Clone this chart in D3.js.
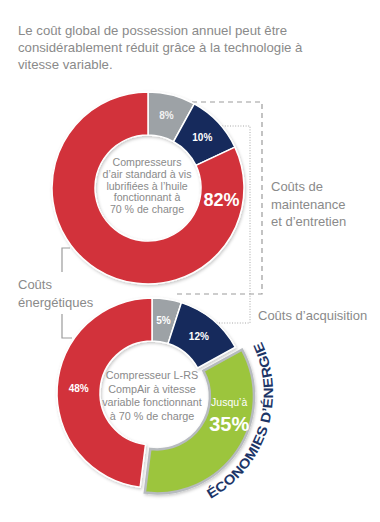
<!DOCTYPE html>
<html>
<head>
<meta charset="utf-8">
<script src="https://cdn.jsdelivr.net/npm/d3@7/dist/d3.min.js"></script>
<style>
  body { margin: 0; background: #fff; }
  svg { display: block; font-family: "Liberation Sans", Arial, sans-serif; }
</style>
</head>
<body>
<div id="chart"></div>
<script>
// Chart data
var titleLines = [
  "Le coût global de possession annuel peut être",
  "considérablement réduit grâce à la technologie à",
  "vitesse variable."
]
var topCategories = ["acquisition", "maintenance", "energie"]
var topValues = [8, 10, 82]
var topCenterText = ["Compresseurs", "d’air standard à vis", "lubrifiées à l’huile", "fonctionnant à", "70 % de charge"]

var bottomCategories = ["acquisition", "maintenance", "economies", "energie"]
var bottomValues = [5, 12, 35, 48]
var bottomCenterText = ["Compresseur L-RS", "CompAir à vitesse", "variable fonctionnant", "à 70 % de charge"]
var caption = "ÉCONOMIES D’ÉNERGIE"

var colors = {
  acquisition: "#9da2a6",
  maintenance: "#132a5b",
  energie: "#d2333b",
  economies: "#9cc53d"
}

var width = 380
var height = 522
var grey = "#8a8a8a"

var svg = d3.select("#chart")
  .append("svg")
  .attr("width", width)
  .attr("height", height)

// soft shadow under the rings
var defs = svg.append("defs")
defs.append("filter")
  .attr("id", "shadow")
  .attr("x", "-20%").attr("y", "-20%").attr("width", "140%").attr("height", "140%")
  .append("feDropShadow")
  .attr("dx", 1).attr("dy", 1.5).attr("stdDeviation", 1.5)
  .attr("flood-color", "#000").attr("flood-opacity", 0.22)

// Title
svg.append("text")
  .attr("x", 18)
  .attr("y", 35)
  .attr("font-size", 13.2)
  .attr("fill", grey)
  .selectAll("tspan")
  .data(titleLines)
  .enter().append("tspan")
  .attr("x", 18)
  .attr("dy", function(d, i) { return i ? 17 : 0 })
  .text(function(d) { return d })

// Bracket boxes (drawn first so the rings sit on top)
var lineCol = "#9b9b9b"
svg.append("path")
  .attr("d", "M183,102H262V294H173")
  .attr("fill", "none").attr("stroke", lineCol)
  .attr("stroke-width", 1.2).attr("stroke-dasharray", "5,4")
svg.append("path")
  .attr("d", "M217,126H250V323H173")
  .attr("fill", "none").attr("stroke", "#a8a8a8")
  .attr("stroke-width", 1).attr("stroke-dasharray", "1,1.6")

// energy cost brackets
svg.append("path")
  .attr("d", "M70,248H62V272")
  .attr("fill", "none").attr("stroke", lineCol).attr("stroke-width", 1.2)
svg.append("path")
  .attr("d", "M62,314V338H72")
  .attr("fill", "none").attr("stroke", lineCol).attr("stroke-width", 1.2)

// Side labels
function multiline(x, y, lines, step, opts) {
  var t = svg.append("text")
    .attr("x", x).attr("y", y)
    .attr("font-size", opts.size || 13)
    .attr("fill", opts.fill || grey)
    .attr("text-anchor", opts.anchor || "start")
  t.selectAll("tspan")
    .data(lines)
    .enter().append("tspan")
    .attr("x", x)
    .attr("dy", function(d, i) { return i ? step : 0 })
    .text(function(d) { return d })
  return t
}

multiline(271, 191, ["Coûts de", "maintenance", "et d’entretien"], 17.5, {})
multiline(258, 320, ["Coûts d’acquisition"], 0, {})
multiline(18, 289, ["Coûts", "énergétiques"], 17.5, {})

var pie = d3.pie().sort(null).value(function(d) { return d.value })

// ---------- Top ring ----------
var topData = topCategories.map(function(c, i) { return { key: c, value: topValues[i] } })
var topR = 96, topr = 53
var arcTop = d3.arc().innerRadius(topr).outerRadius(topR)

var gTop = svg.append("g").attr("transform", "translate(148,188)")
gTop.append("g").attr("filter", "url(#shadow)")
  .selectAll("path")
  .data(pie(topData))
  .enter().append("path")
  .attr("d", arcTop)
  .attr("fill", function(d) { return colors[d.data.key] })
  .attr("stroke", "#fff")
  .attr("stroke-width", 1.5)

gTop.selectAll(".pct")
  .data(pie(topData))
  .enter().append("text")
  .attr("class", "pct")
  .attr("transform", function(d) {
    var c
    if (d.data.key === "energie") {
      // big label sits just past the navy slice
      c = arcTop.centroid({ startAngle: d.startAngle, endAngle: d.startAngle + 1.2 })
    } else {
      c = arcTop.centroid(d)
    }
    return "translate(" + c + ")"
  })
  .attr("text-anchor", "middle")
  .attr("dy", "0.35em")
  .attr("fill", function(d) { return d.data.key === "acquisition" ? "#f2f2f2" : "#fff" })
  .attr("font-weight", "bold")
  .attr("font-size", function(d) { return d.data.key === "energie" ? 18 : 10 })
  .text(function(d) { return d.value + "%" })

gTop.append("text")
  .attr("text-anchor", "middle")
  .attr("font-size", 10.6)
  .attr("fill", grey)
  .selectAll("tspan")
  .data(topCenterText)
  .enter().append("tspan")
  .attr("x", -1)
  .attr("y", function(d, i) { return -22 + i * 11.8 })
  .text(function(d) { return d })

// ---------- Bottom ring ----------
var botData = bottomCategories.map(function(c, i) { return { key: c, value: bottomValues[i] } })
var botR = 95, botr = 52
var arcBot = d3.arc().innerRadius(botr).outerRadius(botR)
var arcSaving = d3.arc().innerRadius(botr + 1).outerRadius(botR + 2)
var explode = 6

var gBot = svg.append("g").attr("transform", "translate(152,393)")
var botArcs = pie(botData)

function offset(d) {
  var a = (d.startAngle + d.endAngle) / 2
  return [Math.sin(a) * explode, -Math.cos(a) * explode]
}

gBot.append("g").attr("filter", "url(#shadow)")
  .selectAll("path")
  .data(botArcs)
  .enter().append("path")
  .attr("transform", function(d) {
    return d.data.key === "economies" ? "translate(" + offset(d) + ")" : null
  })
  .attr("d", function(d) { return d.data.key === "economies" ? arcSaving(d) : arcBot(d) })
  .attr("fill", function(d) { return colors[d.data.key] })
  .attr("stroke", function(d) { return d.data.key === "economies" ? "#b7bbbf" : "#fff" })
  .attr("stroke-width", function(d) { return d.data.key === "economies" ? 2.5 : 1.5 })

gBot.selectAll(".pct")
  .data(botArcs.filter(function(d) { return d.data.key !== "economies" }))
  .enter().append("text")
  .attr("class", "pct")
  .attr("transform", function(d) { return "translate(" + arcBot.centroid(d) + ")" })
  .attr("text-anchor", "middle")
  .attr("dy", "0.35em")
  .attr("fill", "#fff")
  .attr("font-weight", "bold")
  .attr("font-size", 10)
  .text(function(d) { return d.value + "%" })

// savings label, placed in the upper part of the green slice
var saving = botArcs.filter(function(d) { return d.data.key === "economies" })[0]
var sc = arcSaving.centroid({ startAngle: saving.startAngle, endAngle: saving.startAngle + 1.55 })
var so = offset(saving)
var sLabel = gBot.append("g")
  .attr("transform", "translate(" + (sc[0] + so[0]) + "," + (sc[1] + so[1]) + ")")
sLabel.append("text")
  .attr("text-anchor", "middle")
  .attr("y", -11)
  .attr("font-size", 10.5)
  .attr("fill", "#fff")
  .text("Jusqu’à")
sLabel.append("text")
  .attr("text-anchor", "middle")
  .attr("y", 14)
  .attr("font-size", 20)
  .attr("font-weight", "bold")
  .attr("fill", "#fff")
  .text(saving.value + "%")

gBot.append("text")
  .attr("text-anchor", "middle")
  .attr("font-size", 10.8)
  .attr("fill", grey)
  .selectAll("tspan")
  .data(bottomCenterText)
  .enter().append("tspan")
  .attr("x", 0)
  .attr("y", function(d, i) { return -14 + i * 13.5 })
  .text(function(d) { return d })

// curved caption around the savings slice
var toRad = Math.PI / 180
var capR = 121
var capPath = d3.path()
capPath.arc(0, 0, capR, (151 - 90) * toRad, (64 - 90) * toRad, true)
gBot.append("path")
  .attr("id", "capPath")
  .attr("d", capPath.toString())
  .attr("fill", "none")
gBot.append("text")
  .attr("font-size", 13.5)
  .attr("font-weight", "bold")
  .attr("fill", "#1c3567")
  .append("textPath")
  .attr("href", "#capPath")
  .attr("textLength", capR * 87 * toRad * 0.99)
  .attr("lengthAdjust", "spacingAndGlyphs")
  .text(caption)
</script>
</body>
</html>
